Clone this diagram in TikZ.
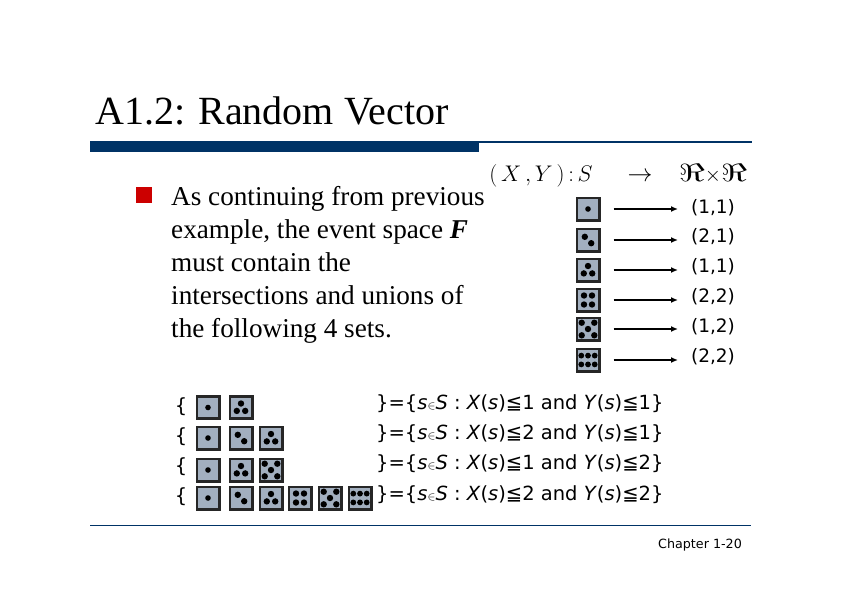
\documentclass[tikz,border=0pt]{standalone}
\usepackage{fontspec}
\usepackage{graphicx}
\setmainfont{Liberation Serif}
\newfontfamily\vsans{DejaVu Sans}
\usetikzlibrary{arrows.meta}
\definecolor{navy}{HTML}{003366}
\definecolor{bullred}{HTML}{CC0000}
\definecolor{diegray}{HTML}{A2AFBF}
\tikzset{
  x=1pt,y=-1pt,
  diebox/.style={draw=black!85,line width=2.6pt,fill=diegray,minimum size=22.4pt,inner sep=0pt,outer sep=1.3pt},
  title/.style={anchor=base west,inner sep=0pt,font=\fontsize{40}{40}\selectfont},
  body/.style={anchor=base west,inner sep=0pt,font=\fontsize{27.2}{27.2}\selectfont},
  mathlab/.style={anchor=base,inner sep=0pt,font=\fontsize{24}{24}\selectfont},
  val/.style={anchor=center,inner sep=0pt,font=\vsans\fontsize{18.5}{18.5}\selectfont},
  settext/.style={anchor=base west,inner sep=0pt,font=\vsans\fontsize{19.5}{19.5}\selectfont},
  maparrow/.style={line width=2.4pt,-{Latex[length=7pt,width=6pt]},shorten <=13pt,shorten >=14pt},
}
\newcommand{\pp}[3][3.2]{\fill (#2,#3) circle (#1pt);}
\newcommand{\die}[4]{%
  \node[diebox] (#1) at (#2,#3) {};
  \begin{scope}[shift={(#2,#3)},x=1pt,y=-1pt]
  \ifcase#4\or
    \pp[2.8]{0}{0}\or
    \pp{-3.2}{-3.2}\pp{3.2}{3.2}\or
    \pp{0}{-4}\pp{-4.2}{3.4}\pp{4.2}{3.4}\or
    \pp{-4}{-4.5}\pp{4}{-4.5}\pp{-4}{4.5}\pp{4}{4.5}\or
    \pp{-6.3}{-6.3}\pp{6.3}{-6.3}\pp{0}{0}\pp{-6.3}{6.3}\pp{6.3}{6.3}\or
    \pp[2.9]{-6.7}{-4.4}\pp[2.9]{0}{-4.4}\pp[2.9]{6.7}{-4.4}\pp[2.9]{-6.7}{4.4}\pp[2.9]{0}{4.4}\pp[2.9]{6.7}{4.4}\fi
  \end{scope}}
\newcommand{\smallin}{{\fontsize{12}{12}\selectfont$\in$}}
\begin{document}
\begin{tikzpicture}
\useasboundingbox (0,0) rectangle (842,595);
\node[title] (ttl) at (95,124) {A1.2: Random Vector};
\fill[navy] (90,141) rectangle (479,152);
\draw[navy,line width=1.3pt] (479,142) -- (752,142);
\draw[navy,line width=1.3pt] (90,525.5) -- (751,525.5);
\fill[bullred] (136,187) rectangle (152,203);
\node[body] (l1) at (171,205) {As continuing from previous};
\node[body] (l2) at (171,238) {example, the event space \textbf{\textit{F}}};
\node[body] (l3) at (171,271) {must contain the};
\node[body] (l4) at (171,304) {intersections and unions of};
\node[body] (l5) at (171,337) {the following 4 sets.};
\node[mathlab,font=\fontsize{21}{21}\selectfont] (m1) at (541,181.5) {\scalebox{1.09}{$(\,X\,,Y\,)\,{:}\,S$}};
\node[mathlab] (m2) at (640,181) {$\to$};
\node[mathlab] (m3) at (713,181) {\scalebox{1.45}[1]{$\Re$}{\fontsize{20}{20}\selectfont$\times$}\scalebox{1.45}[1]{$\Re$}};
\foreach \n/\y/\p/\t/\vy in {1/209/1/{(1,1)}/208,2/240/2/{(2,1)}/237,3/270/3/{(1,1)}/267,4/300/4/{(2,2)}/297,5/329/5/{(1,2)}/327,6/360/6/{(2,2)}/357}{
  \die{d\n}{588}{\y}{\p}
  \node[val] (v\n) at (713,\vy) {\t};
  \coordinate (a\n) at (692,\y);
  \draw[maparrow] (d\n.east) -- (a\n);
}
\foreach \n/\ya in {1/407,2/437,3/467,4/497}{
  \node[val,font=\vsans\fontsize{19.5}{19.5}\selectfont] (b\n) at (181,\ya) {\{};
}
\die{r1a}{208}{407.5}{1}\die{r1b}{241}{407.5}{3}
\die{r2a}{208}{438}{1}\die{r2b}{241}{438}{2}\die{r2c}{271}{438}{3}
\die{r3a}{208}{470}{1}\die{r3b}{241}{470}{3}\die{r3c}{271}{470}{5}
\die{r4a}{208}{498}{1}\die{r4b}{241}{498}{2}\die{r4c}{271}{498}{3}
\die{r4d}{300}{498}{4}\die{r4e}{330}{498}{5}\die{r4f}{360}{498}{6}
\node[settext] (s1) at (376,409) {\}=\{\textit{s}\smallin\textit{S} : \textit{X}(\textit{s})≦1 and \textit{Y}(\textit{s})≦1\}};
\node[settext] (s2) at (376,439) {\}=\{\textit{s}\smallin\textit{S} : \textit{X}(\textit{s})≦2 and \textit{Y}(\textit{s})≦1\}};
\node[settext] (s3) at (376,469) {\}=\{\textit{s}\smallin\textit{S} : \textit{X}(\textit{s})≦1 and \textit{Y}(\textit{s})≦2\}};
\node[settext] (s4) at (376,500) {\}=\{\textit{s}\smallin\textit{S} : \textit{X}(\textit{s})≦2 and \textit{Y}(\textit{s})≦2\}};
\node[anchor=base west,inner sep=0pt,font=\vsans\fontsize{12.7}{12.7}\selectfont] (ch) at (658,548) {Chapter 1-20};
\end{tikzpicture}
\end{document}
